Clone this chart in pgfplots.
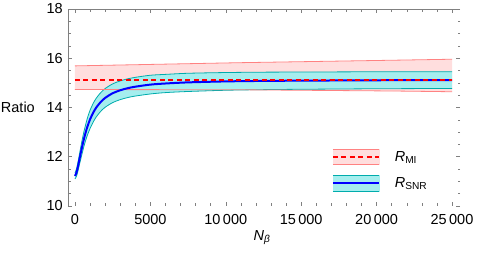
\documentclass[border=0pt]{standalone}
\usepackage{fontspec}
\setmainfont{Liberation Sans}
\usepackage{pgfplots}
\pgfplotsset{compat=1.18}
\usepgfplotslibrary{fillbetween}
\definecolor{pinkfill}{RGB}{255,222,222}
\definecolor{pinkedge}{RGB}{255,130,130}
\definecolor{cyanfill}{RGB}{165,238,238}
\definecolor{cyanedge}{RGB}{0,172,172}
\definecolor{framegray}{RGB}{128,128,128}
\newcommand{\fs}{\fontsize{14.5}{17}\selectfont}
\begin{document}
\begin{tikzpicture}
\begin{axis}[
  at={(0pt,0pt)}, anchor=south west,
  scale only axis, width=392pt, height=197pt,
  xmin=-464, xmax=25530, ymin=10, ymax=18,
  axis line style={draw=none},
  scaled x ticks=false,
  xtick={0,5000,10000,15000,20000,25000},
  xticklabels={0,5000,10\,000,15\,000,20\,000,25\,000},
  ytick={10,12,14,16,18},
  yticklabels={10,12,14,16,18},
  minor x tick num=4, minor y tick num=3,
  tick align=inside,
  tick style={draw=framegray, line width=0.5pt},
  major tick length=4pt, minor tick length=2.5pt,
  tick label style={font=\fs},
  xticklabel style={inner sep=0pt, anchor=north, yshift=-8pt},
  yticklabel style={inner sep=0pt, anchor=east, xshift=-5pt},
  xlabel={\textit{N}\textsubscript{\textit{β}}},
  xlabel style={font=\fs, at={(axis description cs:0.5,0)}, anchor=north, yshift=-24pt, xshift=-2pt, inner sep=0pt},
  ylabel={Ratio},
  ylabel style={font=\fs, rotate=-90, at={(axis description cs:0,0.5)}, anchor=east, xshift=-33pt, inner sep=0pt},
  legend style={at={(rel axis cs:0.673,0.288)}, anchor=north west, draw=none, fill=none,
    inner sep=0pt, outer sep=0pt, row sep=9.5pt, font=\fs,
    nodes={inner sep=0pt},
    /tikz/every odd column/.append style={column sep=15pt}},
  legend cell align=left,
]
% R_SNR band edges
\addplot[name path=snrU, draw=cyanedge, line width=0.8pt, smooth, forget plot] coordinates {
(0,11.34) (100,11.51) (200,11.79) (300,12.12) (400,12.45) (500,12.76) (600,13.04) (700,13.29)
(800,13.52) (900,13.72) (1000,13.89) (1200,14.16) (1400,14.37) (1700,14.60) (2000,14.77)
(2500,14.96) (3000,15.08) (3500,15.165) (4000,15.225) (5000,15.31) (6000,15.345) (7500,15.39)
(10000,15.42) (12500,15.435) (15000,15.44) (20000,15.451) (25000,15.453)};
\addplot[name path=snrL, draw=cyanedge, line width=0.8pt, smooth, forget plot] coordinates {
(0,11.10) (100,11.21) (200,11.43) (300,11.70) (400,11.95) (500,12.20) (600,12.44) (700,12.65)
(800,12.84) (900,13.00) (1000,13.15) (1200,13.40) (1400,13.61) (1700,13.84) (2000,14.01)
(2500,14.20) (3000,14.32) (3500,14.405) (4000,14.465) (5000,14.55) (6000,14.605) (7500,14.65)
(10000,14.70) (12500,14.725) (15000,14.74) (20000,14.761) (25000,14.773)};

% R_MI band edges
\addplot[name path=miU, draw=pinkedge, line width=0.8pt, forget plot] coordinates {
(0,15.69) (10940,15.82) (21090,15.92) (25000,15.96)};
\addplot[name path=miL, draw=pinkedge, line width=0.8pt, forget plot] coordinates {
(0,14.73) (10940,14.72) (21090,14.67) (25000,14.64)};

\addplot[pinkfill, forget plot] fill between[of=miU and miL];
\addplot[cyanfill, forget plot] fill between[of=snrU and snrL];

% R_SNR
\addplot[blue, line width=2pt, smooth, forget plot] coordinates {
(0,11.22) (100,11.36) (200,11.61) (300,11.91) (400,12.20) (500,12.48) (600,12.74) (700,12.97)
(800,13.18) (900,13.36) (1000,13.52) (1200,13.78) (1400,13.99) (1700,14.22) (2000,14.39)
(2500,14.58) (3000,14.70) (3500,14.785) (4000,14.845) (5000,14.93) (6000,14.975) (7500,15.02)
(10000,15.06) (12500,15.08) (15000,15.09) (20000,15.106) (25000,15.113)};

% R_MI
\addplot[red, line width=1.8pt, dash pattern=on 5pt off 3.5pt, forget plot] coordinates {
(0,15.12) (25000,15.12)};

\addlegendimage{legend image code/.code={
  \fill[pinkfill] (0pt,-7.5pt) rectangle (46pt,7.5pt);
  \draw[pinkedge, line width=0.8pt] (0pt,-7.5pt) -- (46pt,-7.5pt) (0pt,7.5pt) -- (46pt,7.5pt);
  \draw[red, line width=1.8pt, dash pattern=on 5pt off 3.5pt] (0pt,0pt) -- (46pt,0pt);}}
\addlegendentry{\textit{R}\textsubscript{MI}}
\addlegendimage{legend image code/.code={
  \fill[cyanfill] (0pt,-8pt) rectangle (46pt,8pt);
  \draw[cyanedge, line width=0.8pt] (0pt,-8pt) -- (46pt,-8pt) (0pt,8pt) -- (46pt,8pt);
  \draw[blue, line width=2pt] (0pt,0pt) -- (46pt,0pt);}}
\addlegendentry{\textit{R}\textsubscript{SNR}}

\draw[framegray, line width=0.5pt] (rel axis cs:0,0) -- (rel axis cs:0,1) -- (rel axis cs:1,1);
\end{axis}
\path (-68pt,-54pt) rectangle (412pt,206pt);
\end{tikzpicture}
\end{document}
